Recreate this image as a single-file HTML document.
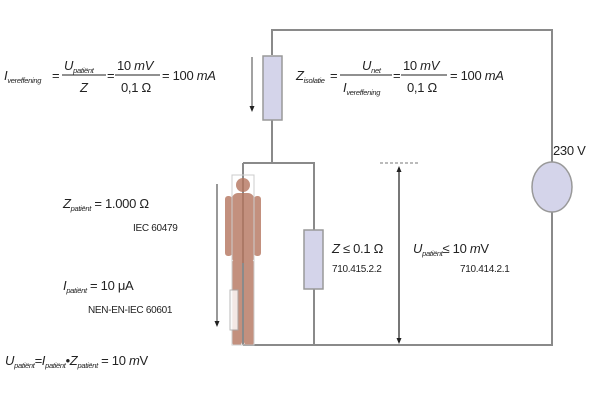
<!DOCTYPE html>
<html><head><style>
body{margin:0;background:#fff;}
svg{display:block;font-family:"Liberation Sans",sans-serif;}
.i{font-style:italic}
</style></head><body>
<svg width="600" height="400" viewBox="0 0 600 400">
<g stroke="#8a8a8a" stroke-width="2" fill="none">
<polyline points="272,55 272,30 552,30 552,162"/>
<line x1="272" y1="120" x2="272" y2="163"/>
<polyline points="243,163 314,163 314,345"/>
<line x1="243" y1="163" x2="243" y2="345"/>
<polyline points="243,345 552,345 552,212"/>
</g>
<rect x="263" y="56" width="19" height="64" fill="#d4d4ea" stroke="#999" stroke-width="1.5"/>
<rect x="304" y="230" width="19" height="59" fill="#d4d4ea" stroke="#999" stroke-width="1.5"/>
<ellipse cx="552" cy="187" rx="20" ry="25" fill="#d4d4ea" stroke="#999" stroke-width="1.5"/>
<line x1="252" y1="57" x2="252" y2="108" stroke="#444" stroke-width="1"/>
<path d="M249.5,106 L252,112 L254.5,106z" fill="#222"/>
<line x1="217" y1="184" x2="217" y2="325" stroke="#555" stroke-width="1.2"/>
<path d="M214.5,321 L217,327 L219.5,321z" fill="#222"/>
<line x1="380" y1="163" x2="420" y2="163" stroke="#777" stroke-dasharray="3,2"/>
<line x1="399" y1="168" x2="399" y2="342" stroke="#777" stroke-width="2"/>
<path d="M396.5,172 L399,166 L401.5,172z" fill="#222"/>
<path d="M396.5,338 L399,344 L401.5,338z" fill="#222"/>
<g fill="#b5755e" opacity="0.8">
<circle cx="243" cy="185" r="7"/>
<rect x="232" y="193" width="22" height="70" rx="6"/>
<rect x="225" y="196" width="7" height="60" rx="3"/>
<rect x="254" y="196" width="7" height="60" rx="3"/>
<rect x="232" y="260" width="10" height="85" rx="3"/>
<rect x="244" y="260" width="10" height="85" rx="3"/>
</g>
<rect x="232" y="175" width="22" height="170" fill="none" stroke="#ccc"/>
<rect x="230" y="290" width="8" height="40" fill="#fff" stroke="#aaa" opacity="0.8"/>
<g font-size="13" fill="#222" letter-spacing="-0.3">
<text x="4" y="80" class="i">I<tspan font-size="7.5" dy="3">vereffening</tspan></text>
<text x="52" y="80">=</text>
<text x="64" y="70" class="i">U<tspan font-size="7.5" dy="3">patiënt</tspan></text>
<line x1="62" y1="75" x2="106" y2="75" stroke="#222"/>
<text x="80" y="92" class="i">Z</text>
<text x="107" y="80">=</text>
<text x="117" y="70">10 <tspan class="i">mV</tspan></text>
<line x1="115" y1="75" x2="160" y2="75" stroke="#222"/>
<text x="121" y="92">0,1 Ω</text>
<text x="162" y="80">= 100 <tspan class="i">mA</tspan></text>
<text x="296" y="80" class="i">Z<tspan font-size="7.5" dy="3">isolatie</tspan></text>
<text x="330" y="80">=</text>
<text x="362" y="70" class="i">U<tspan font-size="7.5" dy="3">net</tspan></text>
<line x1="340" y1="75" x2="392" y2="75" stroke="#222"/>
<text x="343" y="92" class="i">I<tspan font-size="7.5" dy="3">vereffening</tspan></text>
<text x="393" y="80">=</text>
<text x="403" y="70">10 <tspan class="i">mV</tspan></text>
<line x1="401" y1="75" x2="447" y2="75" stroke="#222"/>
<text x="407" y="92">0,1 Ω</text>
<text x="450" y="80">= 100 <tspan class="i">mA</tspan></text>
<text x="553" y="155" font-size="13">230 V</text>
<text x="63" y="208" class="i">Z<tspan font-size="7.5" dy="3">patiënt</tspan><tspan dy="-3" font-style="normal"> = 1.000 Ω</tspan></text>
<text x="133" y="231" font-size="10">IEC 60479</text>
<text x="63" y="290" class="i">I<tspan font-size="7.5" dy="3">patiënt</tspan><tspan dy="-3" font-style="normal"> = 10 μA</tspan></text>
<text x="88" y="313" font-size="10">NEN-EN-IEC 60601</text>
<text x="5" y="365" class="i">U<tspan font-size="7.5" dy="3">patiënt</tspan><tspan dy="-3">=I</tspan><tspan font-size="7.5" dy="3">patiënt</tspan><tspan dy="-3">•Z</tspan><tspan font-size="7.5" dy="3">patiënt</tspan><tspan dy="-3" font-style="normal"> = 10 </tspan>m<tspan font-style="normal">V</tspan></text>
<text x="332" y="253" class="i">Z<tspan font-style="normal"> ≤ 0.1 Ω</tspan></text>
<text x="332" y="272" font-size="10">710.415.2.2</text>
<text x="413" y="253" class="i">U<tspan font-size="7.5" dy="3">patiënt</tspan><tspan dy="-3" font-style="normal">≤ 10 </tspan>m<tspan font-style="normal">V</tspan></text>
<text x="460" y="272" font-size="10">710.414.2.1</text>
</g>
</svg>
</body></html>
